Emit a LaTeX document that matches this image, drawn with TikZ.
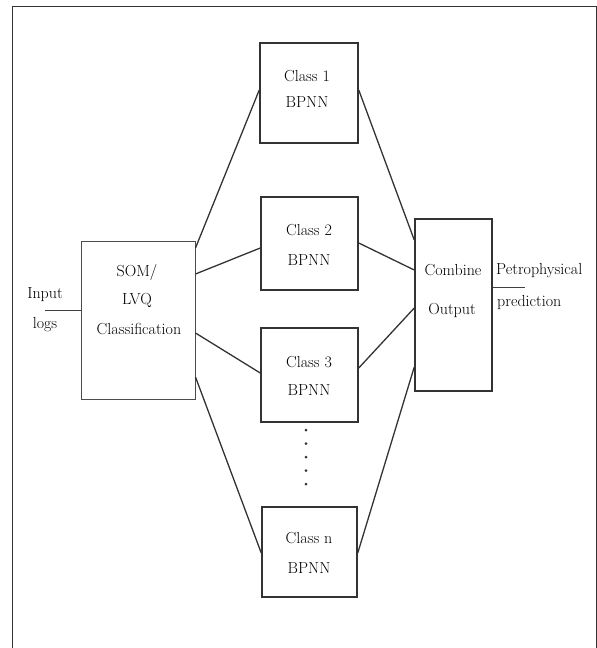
\documentclass[tikz,border=0pt]{standalone}
\usetikzlibrary{calc}
\begin{document}
\begin{tikzpicture}[x=1pt,y=-1pt,
  box/.style={draw=black!80,line width=1.5pt,inner sep=0pt,fill=white},
  lbl/.style={inner sep=0pt,font=\fontsize{16}{19}\selectfont},
  conn/.style={draw=black!80,line width=1.3pt},
  thin/.style={draw=black!75,line width=0.9pt}]
\useasboundingbox (0,0) rectangle (597,648);
% frame (open at bottom)
\draw[black!80,line width=0.8pt] (12,648) -- (12,6) -- (596,6) -- (596,648);
% boxes
\node[box,minimum width=98pt,minimum height=100pt] (c1) at (309,93) {};
\node[box,minimum width=97pt,minimum height=93pt] (c2) at (309.5,243.5) {};
\node[box,minimum width=97pt,minimum height=94pt] (c3) at (309.5,375) {};
\node[box,minimum width=95pt,minimum height=90pt] (cn) at (309.5,552) {};
\node[box,draw=black!70,line width=1pt,minimum width=114pt,minimum height=158pt] (som) at (138,320) {};
\node[box,minimum width=77pt,minimum height=172pt] (comb) at (453.5,305) {};
% labels
\node[lbl] (c1a) at (307,76) {Class 1};
\node[lbl] (c1b) at (307,102) {BPNN};
\node[lbl] (c2a) at (309,230) {Class 2};
\node[lbl] (c2b) at (309,260) {BPNN};
\node[lbl] (c3a) at (309,362) {Class 3};
\node[lbl] (c3b) at (309,390) {BPNN};
\node[lbl] (cna) at (309,538) {Class n};
\node[lbl] (cnb) at (309,568) {BPNN};
\node[lbl] (s1) at (137,272) {SOM/};
\node[lbl] (s2) at (137,300) {LVQ};
\node[lbl] (s3) at (139,329) {Classification};
\node[lbl] (o1) at (453,270) {Combine};
\node[lbl] (o2) at (452,310) {Output};
\node[lbl,anchor=west] (p1) at (496,271) {Petrophysical};
\node[lbl,anchor=west] (p2) at (497,303) {prediction};
\node[lbl] (i1) at (45,295) {Input};
\node[lbl] (i2) at (45,325) {logs};
% input / output lines
\coordinate (inp) at (45,310);
\coordinate (outp) at (525,287);
\draw[thin] (inp) -- ([yshift=10pt]som.west);
\draw[thin] ([yshift=18pt]comb.east) -- (outp);
% connectors SOM -> classes
\draw[conn] ([yshift=72pt]som.east) -- ([yshift=3pt]c1.west);
\draw[conn] ([yshift=46pt]som.east) -- ([yshift=-4.5pt]c2.west);
\draw[conn] ([yshift=-13pt]som.east) -- ([yshift=2pt]c3.west);
\draw[conn] ([yshift=-57pt]som.east) -- ([yshift=-1pt]cn.west);
% connectors classes -> combine
\draw[conn] ([yshift=3pt]c1.east) -- ([yshift=65pt]comb.west);
\draw[conn] ([yshift=0.5pt]c2.east) -- ([yshift=35pt]comb.west);
\draw[conn] ([yshift=7pt]c3.east) -- ([yshift=-3pt]comb.west);
\draw[conn] ([yshift=-1pt]cn.east) -- ([yshift=-62pt]comb.west);
% dots
\foreach \k in {0,...,4}
  \fill[black!80] (306,430+13.5*\k) circle (1.5pt);
\end{tikzpicture}
\end{document}
